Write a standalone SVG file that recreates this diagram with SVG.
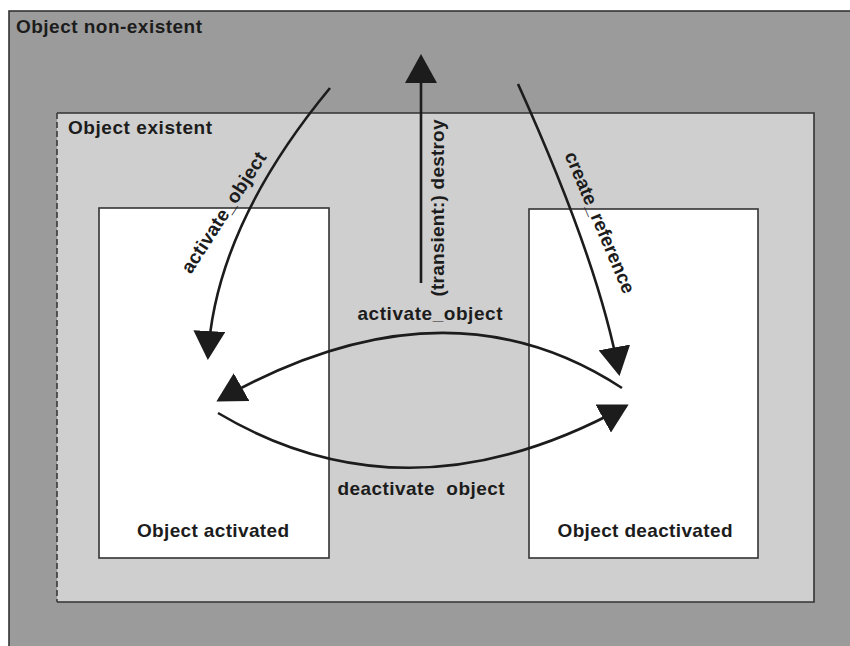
<svg xmlns="http://www.w3.org/2000/svg" width="850" height="646" viewBox="0 0 850 646">
  <style>
    .lbl { font-family: "Liberation Sans", Arial, sans-serif; font-weight: bold; font-size: 19px; fill: #1c1c1c; }
    .mid { text-anchor: middle; }
    .edge { fill: none; stroke: #1c1c1c; stroke-width: 2.6; }
    .frame { stroke: #333; stroke-width: 1.6; }
  </style>
  <defs>
    <marker id="head" markerUnits="userSpaceOnUse" viewBox="0 0 29 32" refX="26" refY="16" markerWidth="29" markerHeight="32" orient="auto">
      <path d="M0,0 L29,16 L0,32 Z" fill="#1c1c1c"/>
    </marker>
  </defs>

  <rect width="850" height="646" fill="#ffffff"/>

  <!-- outermost state: object does not exist -->
  <g id="non-existent">
    <rect x="9" y="11" width="860" height="660" fill="#9b9b9b" class="frame"/>
    <text class="lbl" x="16" y="33" textLength="186">Object non-existent</text>
  </g>

  <!-- object exists: solid top/right/bottom, dashed left edge -->
  <g id="existent">
    <rect x="57" y="113" width="757" height="489" fill="#cfcfcf"/>
    <path d="M57,113 H814 V602 H57" fill="none" class="frame"/>
    <line x1="57" y1="113" x2="57" y2="602" stroke="#3a3a3a" stroke-width="1.6" stroke-dasharray="6 3"/>
    <text class="lbl" x="68" y="134" textLength="144">Object existent</text>
  </g>

  <g id="activated">
    <rect x="99" y="208" width="230" height="350" fill="#ffffff" class="frame"/>
    <text class="lbl mid" x="213" y="537" textLength="152">Object activated</text>
  </g>

  <g id="deactivated">
    <rect x="529" y="209" width="229" height="349" fill="#ffffff" class="frame"/>
    <text class="lbl mid" x="645" y="537" textLength="175">Object deactivated</text>
  </g>

  <!-- transitions -->
  <g id="connectors">
    <path class="edge" d="M330,88 Q215,227 208,357" marker-end="url(#head)"/>
    <path class="edge" d="M518,84 Q599,263 619,373" marker-end="url(#head)"/>
    <path class="edge" d="M421,283 V57" marker-end="url(#head)"/>
    <path class="edge" d="M622,388 Q445,272 219,400" marker-end="url(#head)"/>
    <path class="edge" d="M218,413 Q408,526 626,406" marker-end="url(#head)"/>

    <text class="lbl mid" transform="translate(229,216) rotate(-57)" textLength="140">activate_object</text>
    <text class="lbl mid" transform="translate(594,225) rotate(67)" textLength="152">create_reference</text>
    <text class="lbl mid" transform="translate(444,208) rotate(-90)" textLength="177">(transient:) destroy</text>
    <text class="lbl mid" x="430" y="320" textLength="145">activate_object</text>
    <text class="lbl mid" x="421" y="495" textLength="167" xml:space="preserve">deactivate  object</text>
  </g>
</svg>
